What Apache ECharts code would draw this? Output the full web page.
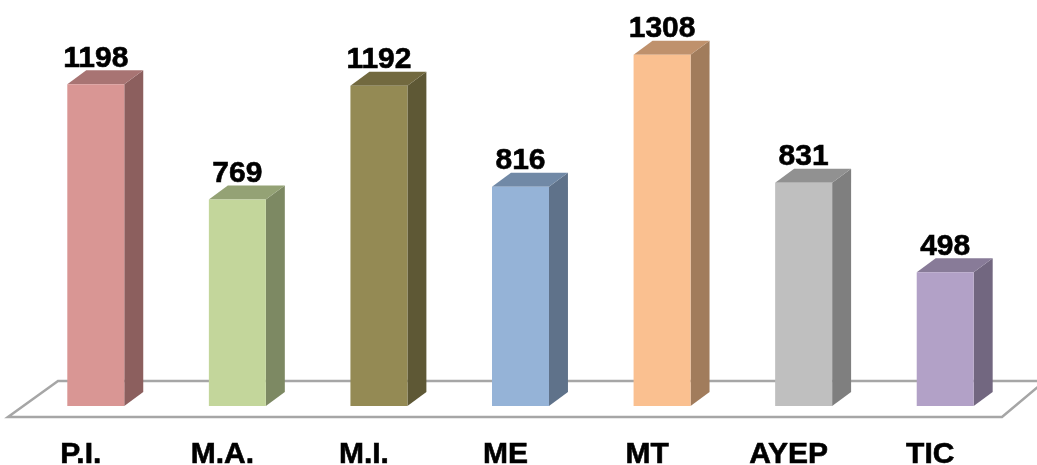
<!DOCTYPE html>
<html>
<head>
<meta charset="utf-8">
<script src="https://cdn.jsdelivr.net/npm/echarts@6/dist/echarts.min.js"></script>
<style>
html,body{margin:0;padding:0;background:#fff;}
#chart{width:1037px;height:465px;}
</style>
</head>
<body>
<div id="chart"></div>
<script>
const categories = ['P.I.', 'M.A.', 'M.I.', 'ME', 'MT', 'AYEP', 'TIC'];
const values = [1198, 769, 1192, 816, 1308, 831, 498];
const frontColors = ['#D99694', '#C3D69B', '#948A54', '#95B3D7', '#FAC090', '#BFBFBF', '#B2A1C7'];
const sideColors  = ['#8C5F5E', '#7D8963', '#5E5835', '#5F728A', '#A17C5C', '#7F7F7F', '#726780'];
const topColors   = ['#A87473', '#94A275', '#72693F', '#7189A6', '#BF916C', '#919191', '#887B98'];

const FONT = '"Liberation Sans", Arial, sans-serif';
const chart = echarts.init(document.getElementById('chart'));

function renderFloor(params, api) {
  const cs = params.coordSys;
  const y0 = api.coord([0, 0])[1];
  const xl = cs.x, xr = cs.x + cs.width;
  return {
    type: 'polygon',
    shape: {
      points: [
        [xl - 17, y0 + 11],
        [xr - 14, y0 + 11],
        [xr + 29, y0 - 25],
        [xl + 33, y0 - 25]
      ]
    },
    style: { fill: '#ffffff', stroke: '#A6A6A6', lineWidth: 2.5 },
    silent: true
  };
}

function renderBar(params, api) {
  const idx = api.value(0);
  const v = api.value(1);
  const base = api.coord([idx, 0]);
  const top = api.coord([idx, v]);
  const band = api.size([1, 0])[0];
  const w = band * 0.4025;
  const dx = band * 0.134;
  const dy = 14;
  const x1 = base[0] - w / 2;
  const x2 = base[0] + w / 2;
  const yb = base[1];
  const yt = top[1];
  const i = params.dataIndex;
  return {
    type: 'group',
    children: [
      {
        type: 'polygon',
        shape: { points: [[x2, yb], [x2 + dx, yb - dy], [x2 + dx, yt - dy], [x2, yt]] },
        style: { fill: sideColors[i] }
      },
      {
        type: 'polygon',
        shape: { points: [[x1, yt], [x2, yt], [x2 + dx, yt - dy], [x1 + dx, yt - dy]] },
        style: { fill: topColors[i] }
      },
      {
        type: 'rect',
        shape: { x: x1, y: yt, width: w, height: yb - yt },
        style: { fill: frontColors[i] }
      },
      {
        type: 'text',
        style: {
          text: String(values[i]),
          x: base[0],
          y: yt - dy + 3,
          align: 'center',
          verticalAlign: 'bottom',
          font: 'bold 30px ' + FONT,
          fill: '#000000',
          stroke: '#000000',
          lineWidth: 0.6
        }
      }
    ]
  };
}

chart.setOption({
  animation: false,
  backgroundColor: '#ffffff',
  grid: { left: 25, right: 21, top: 30, bottom: 59, containLabel: false, outerBoundsMode: 'none' },
  xAxis: {
    type: 'category',
    data: categories,
    axisLine: { show: false },
    axisTick: { show: false },
    splitLine: { show: false },
    axisLabel: {
      margin: 34,
      color: '#000000',
      fontFamily: FONT,
      fontWeight: 'bold',
      fontSize: 30,
      textBorderColor: '#000000',
      textBorderWidth: 0.6,
      padding: [0, 30, 0, 0]
    }
  },
  yAxis: {
    type: 'value',
    min: 0,
    max: 1400,
    show: false,
    splitLine: { show: false }
  },
  series: [
    {
      type: 'custom',
      renderItem: renderFloor,
      data: [[0, 0]],
      clip: false,
      z: 1,
      silent: true
    },
    {
      type: 'custom',
      renderItem: renderBar,
      data: values.map((v, i) => [i, v]),
      clip: false,
      z: 2
    }
  ]
});
</script>
</body>
</html>
